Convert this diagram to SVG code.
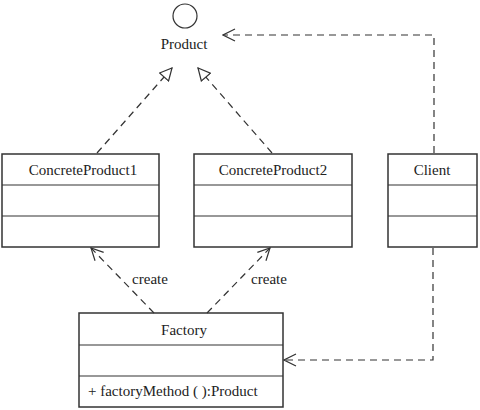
<svg xmlns="http://www.w3.org/2000/svg" width="480" height="410" viewBox="0 0 480 410">
<style>
text{font-family:"Liberation Serif","Times New Roman",serif;font-size:15px;fill:#222}
.box{fill:#fff;stroke:#333;stroke-width:1.5}
.div{stroke:#333;stroke-width:1.2}
.dash{fill:none;stroke:#333;stroke-width:1.2;stroke-dasharray:7,5}
</style>
<defs>
<marker id="tri" viewBox="0 0 14 14" refX="13" refY="7" markerWidth="14" markerHeight="14" markerUnits="userSpaceOnUse" orient="auto">
<path d="M1,1 L13,7 L1,13 Z" fill="#fff" stroke="#333" stroke-width="1.2"/>
</marker>
<marker id="open" viewBox="0 0 14 14" refX="13" refY="7" markerWidth="14" markerHeight="14" markerUnits="userSpaceOnUse" orient="auto">
<path d="M1,1 L13,7 L1,13" fill="none" stroke="#333" stroke-width="1.2"/>
</marker>
</defs>
<g id="product">
<circle cx="185" cy="16" r="12" fill="#fff" stroke="#333" stroke-width="1.2"/>
<text x="184" y="49" text-anchor="middle">Product</text>
</g>
<g id="concreteProduct1">
<rect class="box" x="2" y="154" width="157" height="93"/>
<line class="div" x1="2" y1="185" x2="159" y2="185"/>
<line class="div" x1="2" y1="216" x2="159" y2="216"/>
<text x="83" y="175" text-anchor="middle">ConcreteProduct1</text>
</g>
<g id="concreteProduct2">
<rect class="box" x="194" y="154" width="158" height="93"/>
<line class="div" x1="194" y1="185" x2="352" y2="185"/>
<line class="div" x1="194" y1="216" x2="352" y2="216"/>
<text x="273" y="175" text-anchor="middle">ConcreteProduct2</text>
</g>
<g id="client">
<rect class="box" x="388" y="154" width="89" height="93"/>
<line class="div" x1="388" y1="185" x2="477" y2="185"/>
<line class="div" x1="388" y1="216" x2="477" y2="216"/>
<text x="432" y="175" text-anchor="middle">Client</text>
</g>
<g id="factory">
<rect class="box" x="79" y="313" width="204" height="94"/>
<line class="div" x1="79" y1="345" x2="283" y2="345"/>
<line class="div" x1="79" y1="376" x2="283" y2="376"/>
<text x="184" y="335" text-anchor="middle">Factory</text>
<text x="88" y="396">+ factoryMethod ( ):Product</text>
</g>
<g id="connectors">
<line class="dash" x1="97" y1="153" x2="172" y2="68" marker-end="url(#tri)"/>
<line class="dash" x1="272" y1="153" x2="198" y2="68" marker-end="url(#tri)"/>
<polyline class="dash" points="434,153 434,35 223,35" marker-end="url(#open)"/>
<line class="dash" x1="154" y1="313" x2="91" y2="248" marker-end="url(#open)"/>
<line class="dash" x1="207" y1="313" x2="270" y2="248" marker-end="url(#open)"/>
<polyline class="dash" points="433,248 433,360 284,360" marker-end="url(#open)"/>
<text x="150" y="284" text-anchor="middle">create</text>
<text x="269" y="284" text-anchor="middle">create</text>
</g>
</svg>
